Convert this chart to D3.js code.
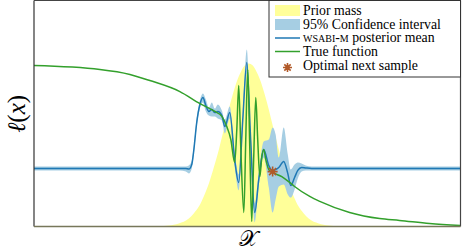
<!DOCTYPE html>
<html>
<head>
<meta charset="utf-8">
<script src="https://cdn.jsdelivr.net/npm/d3@7"></script>
<style>
  html, body { margin: 0; padding: 0; background: #fff; }
  svg { display: block; }
</style>
</head>
<body>
<div id="chart"></div>
<script>
  "use strict";

  const SERIF = "'Liberation Serif', 'Times New Roman', 'DejaVu Serif', serif";

  // prior mass (gaussian bump)
  const priorX = [-10, -4.38, -3.68, -3.21, -2.74, -2.51, -2.27, -2.04, -1.80, -1.57, -1.33, -1.10, -0.87, -0.68, -0.49, -0.30, -0.12,
    0.07, 0.26, 0.44, 0.63, 0.82, 1.01, 1.24, 1.48, 1.71, 1.94, 2.18, 2.41, 2.65, 2.88, 3.35, 3.82, 4.52, 10];
  const priorY = [0, 0, 0.004, 0.013, 0.035, 0.058, 0.088, 0.133, 0.190, 0.261, 0.341, 0.429, 0.518, 0.584, 0.642, 0.684, 0.712,
    0.721, 0.712, 0.684, 0.642, 0.584, 0.518, 0.429, 0.341, 0.261, 0.190, 0.133, 0.088, 0.058, 0.035, 0.013, 0.004, 0, 0];

  // true function
  const trueX = [-10, -6.91, -5.50, -4.57, -3.16, -2.22, -1.52, -1.19, -0.96, -0.77, -0.59, -0.49, -0.40, -0.30, -0.16, -0.07,
    0.02, 0.12, 0.21, 0.30, 0.40, 0.49, 0.59, 0.68, 0.77, 0.87, 1.01, 1.19, 1.62, 1.99, 2.22, 2.93, 3.40, 4.80, 6.21, 7.14, 8.55, 10];
  const trueY = [0.712, 0.695, 0.673, 0.646, 0.597, 0.544, 0.509, 0.487, 0.442, 0.385, 0.283, 0.429, 0.624, 0.341, 0.062, 0.385,
    0.695, 0.341, 0.022, 0.296, 0.571, 0.385, 0.221, 0.305, 0.341, 0.296, 0.252, 0.239, 0.221, 0.195, 0.177, 0.133, 0.111, 0.062,
    0.035, 0.027, 0.013, 0.004];

  // WSABI-M posterior: mean and 95% interval
  const postX = [-10, -3.16, -2.88, -2.74, -2.60, -2.51, -2.37, -2.22, -2.08, -1.94, -1.80, -1.66, -1.52, -1.38, -1.19, -1.05,
    -0.82, -0.59, -0.40, -0.21, -0.02, 0.16, 0.35, 0.54, 0.77, 1.01, 1.19, 1.33, 1.48, 1.71, 1.90, 2.04, 2.22, 2.37, 2.55, 2.74, 3.02, 10];
  const postMean = [0.257, 0.257, 0.257, 0.254, 0.275, 0.335, 0.460, 0.540, 0.571, 0.535, 0.509, 0.518, 0.504, 0.509, 0.491, 0.442,
    0.504, 0.296, 0.195, 0.473, 0.726, 0.385, 0.062, 0.208, 0.341, 0.270, 0.248, 0.252, 0.261, 0.288, 0.235, 0.181, 0.217, 0.248,
    0.261, 0.259, 0.257, 0.257];
  const ciHigh = [0.265, 0.265, 0.265, 0.270, 0.292, 0.353, 0.478, 0.558, 0.588, 0.562, 0.527, 0.549, 0.522, 0.540, 0.513, 0.473,
    0.531, 0.327, 0.230, 0.500, 0.783, 0.416, 0.102, 0.239, 0.376, 0.385, 0.438, 0.407, 0.305, 0.438, 0.319, 0.252, 0.274, 0.283,
    0.279, 0.270, 0.265, 0.265];
  const ciLow = [0.248, 0.248, 0.243, 0.235, 0.257, 0.317, 0.442, 0.522, 0.549, 0.509, 0.491, 0.487, 0.487, 0.478, 0.469, 0.412,
    0.478, 0.265, 0.159, 0.447, 0.677, 0.354, 0.018, 0.177, 0.305, 0.173, 0.062, 0.119, 0.177, 0.186, 0.142, 0.128, 0.164, 0.212,
    0.243, 0.248, 0.248, 0.248];

  // optimal next sample
  const nextX = [1.19];
  const nextY = [0.243];

  const legendLabels = ["Prior mass", "95% Confidence interval", "posterior mean", "True function", "Optimal next sample"];
  const methodName = "wsabi-m";

  const COLORS = {
    prior: "#ffff99",
    ci: "#a6cee3",
    mean: "#1f78b4",
    truth: "#33a02c",
    star: "#b15928",
  };

  const width = 462;
  const height = 250;
  const margin = { left: 34, right: 1.5, top: 0.5, bottom: 23.5 };
  const innerW = width - margin.left - margin.right;
  const innerH = height - margin.top - margin.bottom;

  const x = d3.scaleLinear().domain([-10, 10]).range([0, innerW]);
  const y = d3.scaleLinear().domain([0, 1]).range([innerH, 0]);

  function zip(xs, ys) {
    return xs.map((v, i) => ({ x: v, y: ys[i] }));
  }

  const svg = d3.select("#chart")
    .append("svg")
    .attr("width", width)
    .attr("height", height);

  svg.append("defs").append("clipPath").attr("id", "plot-clip")
    .append("rect").attr("width", innerW).attr("height", innerH);

  const g = svg.append("g").attr("transform", `translate(${margin.left},${margin.top})`);
  const plot = g.append("g").attr("clip-path", "url(#plot-clip)");

  // prior
  plot.append("path")
    .datum(zip(priorX, priorY))
    .attr("fill", COLORS.prior)
    .attr("d", d3.area().x((d) => x(d.x)).y0(y(0)).y1((d) => y(d.y)).curve(d3.curveMonotoneX));

  // confidence band
  const band = postX.map((v, i) => ({ x: v, lo: ciLow[i], hi: ciHigh[i] }));
  plot.append("path")
    .datum(band)
    .attr("fill", COLORS.ci)
    .attr("d", d3.area().x((d) => x(d.x)).y0((d) => y(d.lo)).y1((d) => y(d.hi)).curve(d3.curveMonotoneX));

  const line = d3.line().x((d) => x(d.x)).y((d) => y(d.y)).curve(d3.curveMonotoneX);

  plot.append("path")
    .datum(zip(postX, postMean))
    .attr("fill", "none")
    .attr("stroke", COLORS.mean)
    .attr("stroke-width", 1.5)
    .attr("d", line);

  plot.append("path")
    .datum(zip(trueX, trueY))
    .attr("fill", "none")
    .attr("stroke", COLORS.truth)
    .attr("stroke-width", 1.5)
    .attr("d", line);

  function asterisk(sel, cx, cy, r) {
    let d = "";
    for (let k = 0; k < 4; k += 1) {
      const a = (k * Math.PI) / 4;
      const dx = r * Math.cos(a);
      const dy = r * Math.sin(a);
      d += `M${cx - dx},${cy - dy}L${cx + dx},${cy + dy}`;
    }
    return sel.append("path").attr("d", d).attr("stroke", COLORS.star).attr("stroke-width", 1.6).attr("fill", "none");
  }

  zip(nextX, nextY).forEach((p) => asterisk(plot, x(p.x), y(p.y), 5));

  // frame
  g.append("line").attr("x1", 0).attr("x2", 0).attr("y1", 0).attr("y2", innerH).attr("stroke", "#333").attr("stroke-width", 1.2);
  g.append("line").attr("x1", innerW).attr("x2", innerW).attr("y1", 0).attr("y2", innerH).attr("stroke", "#444").attr("stroke-width", 1.2);
  g.append("line").attr("x1", 0).attr("x2", innerW).attr("y1", 0).attr("y2", 0).attr("stroke", "#444").attr("stroke-width", 1.2);
  g.append("line").attr("x1", 0).attr("x2", innerW).attr("y1", innerH).attr("y2", innerH).attr("stroke", "#77775a").attr("stroke-width", 1.4);

  // axis labels
  const yl = svg.append("text")
    .attr("transform", `translate(25,114) rotate(-90)`)
    .attr("text-anchor", "middle")
    .attr("font-family", SERIF)
    .attr("font-size", 25);
  yl.append("tspan").attr("font-style", "italic").text("ℓ");
  yl.append("tspan").text("(");
  yl.append("tspan").attr("font-style", "italic").text("x");
  yl.append("tspan").text(")");

  svg.append("text")
    .attr("x", margin.left + innerW / 2 + 1)
    .attr("y", 246)
    .attr("text-anchor", "middle")
    .attr("font-family", SERIF)
    .attr("font-size", 22)
    .text("𝒳");

  // legend
  const lg = svg.append("g").attr("transform", "translate(269,0.5)");
  lg.append("rect")
    .attr("width", 191.5).attr("height", 76.5)
    .attr("fill", "#fff").attr("stroke", "#333").attr("stroke-width", 1);

  const rowY = [10, 24, 37.5, 51, 65];
  const swX = 6;
  const swW = 25;

  lg.append("rect").attr("x", swX).attr("y", rowY[0] - 5.5).attr("width", swW).attr("height", 11).attr("fill", COLORS.prior);
  lg.append("rect").attr("x", swX).attr("y", rowY[1] - 5.5).attr("width", swW).attr("height", 11).attr("fill", COLORS.ci);
  lg.append("line").attr("x1", swX).attr("x2", swX + swW).attr("y1", rowY[2]).attr("y2", rowY[2])
    .attr("stroke", COLORS.mean).attr("stroke-width", 1.5);
  lg.append("line").attr("x1", swX).attr("x2", swX + swW).attr("y1", rowY[3]).attr("y2", rowY[3])
    .attr("stroke", COLORS.truth).attr("stroke-width", 1.5);
  asterisk(lg, swX + swW / 2, rowY[4] + 2, 4.5);

  legendLabels.forEach((label, i) => {
    const t = lg.append("text")
      .attr("x", 34)
      .attr("y", rowY[i] + 4)
      .attr("font-family", SERIF)
      .attr("font-size", 13.8);
    if (i === 2) {
      t.append("tspan").style("font-variant", "small-caps").text(methodName);
      t.append("tspan").text(" " + label);
    } else {
      t.text(label);
    }
  });
</script>
</body>
</html>
